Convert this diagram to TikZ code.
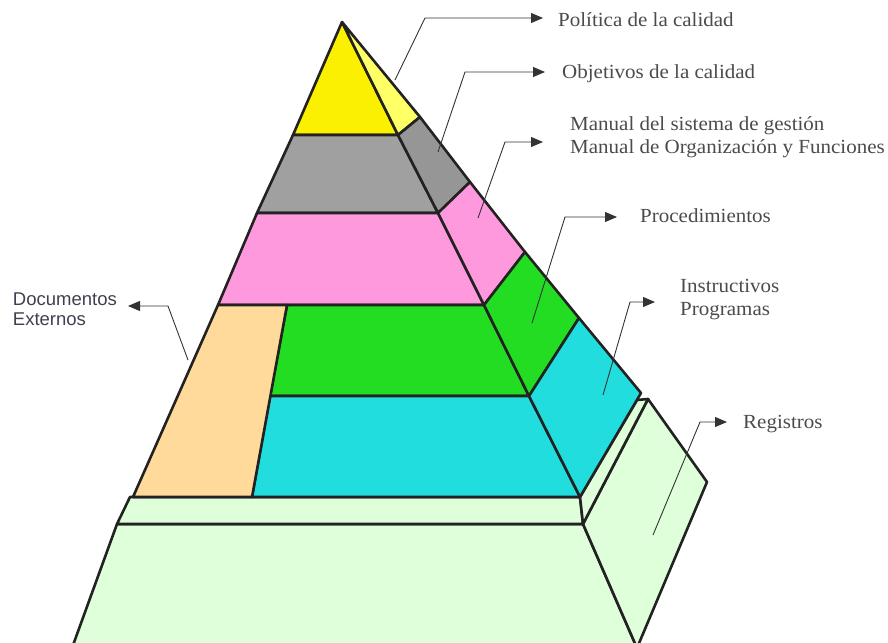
\documentclass[tikz,border=0pt]{standalone}
\usepackage{fontspec}
\usepackage{tikz}
\usetikzlibrary{positioning,calc,arrows.meta}
\newfontfamily\lblfont[FakeStretch=1.05]{Liberation Serif}
\newfontfamily\docfont{Liberation Sans}
\definecolor{edgecolor}{RGB}{34,34,34}
\definecolor{leadcolor}{RGB}{51,51,51}
\definecolor{textgray}{RGB}{75,75,75}
\definecolor{doctext}{RGB}{64,64,80}
\definecolor{polyellow}{RGB}{250,240,0}
\definecolor{polyellowside}{RGB}{255,255,102}
\definecolor{objgray}{RGB}{160,160,160}
\definecolor{objgrayside}{RGB}{150,150,150}
\definecolor{manpink}{RGB}{255,153,221}
\definecolor{procgreen}{RGB}{34,221,34}
\definecolor{instcyan}{RGB}{34,221,221}
\definecolor{docorange}{RGB}{255,218,155}
\definecolor{reglight}{RGB}{222,255,218}

\begin{document}
\begin{tikzpicture}[
    x=1pt, y=-1pt,
    face/.style={draw=edgecolor, line width=2.6pt, line join=round},
    leader/.style={draw=leadcolor, line width=0.9pt, -{Triangle[length=12pt,width=10pt]}},
    label/.style={inner sep=0pt, anchor=base west, align=left, text=textgray, font=\lblfont\fontsize{20}{23}\selectfont},
    doclabel/.style={inner sep=0pt, anchor=base east, align=left, text=doctext, font=\docfont\fontsize{18.5}{19.5}\selectfont}
]
\useasboundingbox (0,0) rectangle (888,642);

% === PYRAMID CORNERS ===
% apex, left edge (L), front right edge (R), outer side edge (S)
\coordinate (apex) at (342,22);
\coordinate (L1) at (293,135);
\coordinate (L2) at (257,213);
\coordinate (L3) at (218,305);
\coordinate (L4) at (133,497);
\coordinate (R1) at (398,135);
\coordinate (R2) at (438,213);
\coordinate (R3) at (484,305);
\coordinate (R4) at (529,396);
\coordinate (R5) at (580,497);
\coordinate (S1) at (420,117);
\coordinate (S2) at (470,182);
\coordinate (S3) at (525,252);
\coordinate (S4) at (579,318);
\coordinate (S5) at (641,393);
% split between external documents and procedures
\coordinate (D1) at (287,305);
\coordinate (D2) at (270,396);
\coordinate (D3) at (252,497);

% Base block (Registros)
\fill[reglight, face] (117,524) -- (583,524) -- (637,648) -- (72,648) -- cycle;
\fill[reglight, face] (583,524) -- (648,399) -- (707,482) -- (637,648) -- cycle;

% Thin slab
\fill[reglight, face] (130,497) -- (R5) -- (583,524) -- (117,524) -- cycle;
\fill[reglight, face] (R5) -- (637,400) -- (648,399) -- (583,524) -- cycle;

% Front faces
\fill[polyellow, face] (apex) -- (L1) -- (R1) -- cycle;
\fill[objgray, face] (L1) -- (R1) -- (R2) -- (L2) -- cycle;
\fill[manpink, face] (L2) -- (R2) -- (R3) -- (L3) -- cycle;
\fill[procgreen, face] (D1) -- (R3) -- (R4) -- (D2) -- cycle;
\fill[instcyan, face] (D2) -- (R4) -- (R5) -- (D3) -- cycle;
\fill[docorange, face] (L3) -- (D1) -- (D3) -- (L4) -- cycle;

% Side faces
\fill[polyellowside, face] (apex) -- (S1) -- (R1) -- cycle;
\fill[objgrayside, face] (R1) -- (S1) -- (S2) -- (R2) -- cycle;
\fill[manpink, face] (R2) -- (S2) -- (S3) -- (R3) -- cycle;
\fill[procgreen, face] (R3) -- (S3) -- (S4) -- (R4) -- cycle;
\fill[instcyan, face] (R4) -- (S4) -- (S5) -- (R5) -- cycle;

% === LABELS ===
% multi-line labels: base anchor sits on the last line
\node[label] (pol) at (558,27) {Política de la calidad};
\node[label] (obj) at (562,78) {Objetivos de la calidad};
\node[label] (man) at (570,153) {Manual del sistema de gestión\\Manual de Organización y Funciones};
\node[label] (proc) at (640,222) {Procedimientos};
\node[label] (inst) at (680,315) {Instructivos\\Programas};
\node[label] (reg) at (743,428) {Registros};
\node[doclabel] (doc) at (117,325) {Documentos\\Externos};

% Leader lines: foot on the pyramid, knee, then across to the label
\coordinate (pol-foot) at (395,80);   \coordinate (pol-knee) at (425,18);
\coordinate (obj-foot) at (438,152);  \coordinate (obj-knee) at (465,72);
\coordinate (man-foot) at (478,218);  \coordinate (man-knee) at (505,142);
\coordinate (proc-foot) at (532,323); \coordinate (proc-knee) at (565,217);
\coordinate (inst-foot) at (603,395); \coordinate (inst-knee) at (630,302);
\coordinate (reg-foot) at (653,535);  \coordinate (reg-knee) at (700,422);
\coordinate (doc-foot) at (188,360);  \coordinate (doc-knee) at (168,306);

\draw[leader, shorten >=15pt] (pol-foot) -- (pol-knee) -- (pol-knee -| pol.west);
\draw[leader, shorten >=17pt] (obj-foot) -- (obj-knee) -- (obj-knee -| obj.west);
\draw[leader, shorten >=27pt] (man-foot) -- (man-knee) -- (man-knee -| man.west);
\draw[leader, shorten >=23pt] (proc-foot) -- (proc-knee) -- (proc-knee -| proc.west);
\draw[leader, shorten >=25pt] (inst-foot) -- (inst-knee) -- (inst-knee -| inst.west);
\draw[leader, shorten >=16pt] (reg-foot) -- (reg-knee) -- (reg-knee -| reg.west);
\draw[leader, shorten >=11pt] (doc-foot) -- (doc-knee) -- (doc-knee -| doc.east);

\end{tikzpicture}
\end{document}
